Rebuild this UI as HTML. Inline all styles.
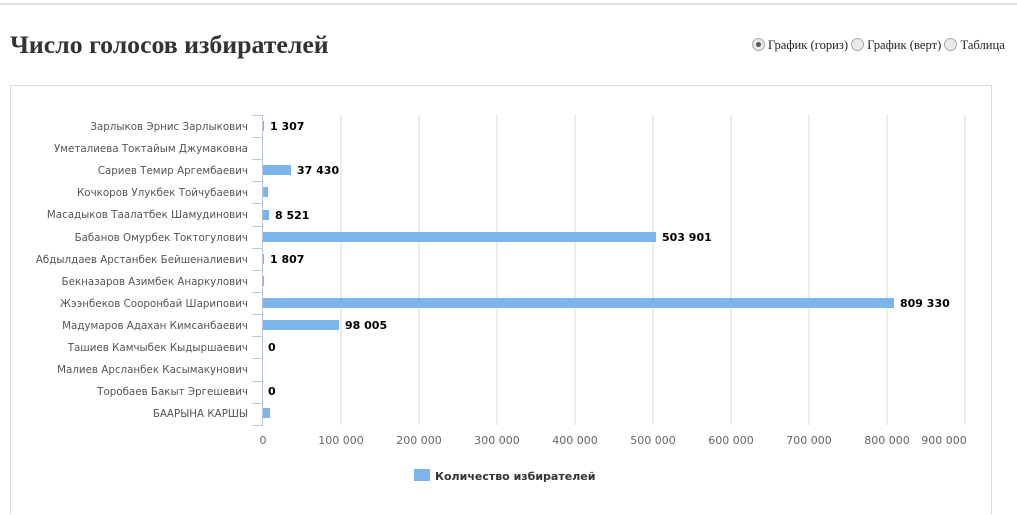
<!DOCTYPE html>
<html style="height:515px;overflow:hidden"><head><meta charset="utf-8"><style>
html,body{margin:0;width:1017px;height:515px;overflow:hidden}
body{background:#fff;position:relative;font-family:"DejaVu Sans",sans-serif}
.top{position:absolute;left:0;top:3px;width:1017px;height:2px;background:#e2e2e2}
h1{position:absolute;left:10px;top:30px;margin:0;font:bold 25.8px "Liberation Serif",serif;color:#333}
.radios{position:absolute;left:752px;top:38px;font:12.6px "Liberation Serif",serif;color:#222;white-space:nowrap}
.radios span{display:inline-block;width:11px;height:11px;border-radius:50%;border:1px solid #aaa;background:#e8e8e8;vertical-align:-2px;margin-right:3px;position:relative}
.radios span.on::after{content:"";position:absolute;left:3px;top:3px;width:5px;height:5px;border-radius:50%;background:#555}
.box{position:absolute;left:10px;top:85px;width:980px;height:428px;border:1px solid #ddd;border-bottom:none}
svg{position:absolute;left:0;top:0}
</style></head><body>
<div class="top"></div>
<h1>Число голосов избирателей</h1>
<div class="radios"><span class="on"></span>График (гориз) <span></span>График (верт) <span></span>Таблица</div>
<div class="box"></div>
<svg width="1017" height="515" font-family="DejaVu Sans, sans-serif">
<g stroke="#d8d8d8" stroke-width="1">
<line x1="341" y1="115" x2="341" y2="425"/><line x1="419" y1="115" x2="419" y2="425"/><line x1="497" y1="115" x2="497" y2="425"/><line x1="575" y1="115" x2="575" y2="425"/><line x1="653" y1="115" x2="653" y2="425"/><line x1="731" y1="115" x2="731" y2="425"/><line x1="809" y1="115" x2="809" y2="425"/><line x1="887" y1="115" x2="887" y2="425"/><line x1="965" y1="115" x2="965" y2="425"/>
</g>
<g stroke="#b8c8dc" stroke-width="1">
<line x1="262.5" y1="115" x2="262.5" y2="426"/>
<line x1="252" y1="115.5" x2="262" y2="115.5"/><line x1="252" y1="137.5" x2="262" y2="137.5"/><line x1="252" y1="159.5" x2="262" y2="159.5"/><line x1="252" y1="181.5" x2="262" y2="181.5"/><line x1="252" y1="203.5" x2="262" y2="203.5"/><line x1="252" y1="226.5" x2="262" y2="226.5"/><line x1="252" y1="248.5" x2="262" y2="248.5"/><line x1="252" y1="270.5" x2="262" y2="270.5"/><line x1="252" y1="292.5" x2="262" y2="292.5"/><line x1="252" y1="314.5" x2="262" y2="314.5"/><line x1="252" y1="336.5" x2="262" y2="336.5"/><line x1="252" y1="358.5" x2="262" y2="358.5"/><line x1="252" y1="381.5" x2="262" y2="381.5"/><line x1="252" y1="403.5" x2="262" y2="403.5"/><line x1="252" y1="425.5" x2="262" y2="425.5"/>
</g>
<g font-size="10.3" fill="#555" text-anchor="end">
<text x="248" y="130">Зарлыков Эрнис Зарлыкович</text>
<text x="248" y="152">Уметалиева Токтайым Джумаковна</text>
<text x="248" y="174">Сариев Темир Аргембаевич</text>
<text x="248" y="196">Кочкоров Улукбек Тойчубаевич</text>
<text x="248" y="218">Масадыков Таалатбек Шамудинович</text>
<text x="248" y="241">Бабанов Омурбек Токтогулович</text>
<text x="248" y="263">Абдылдаев Арстанбек Бейшеналиевич</text>
<text x="248" y="285">Бекназаров Азимбек Анаркулович</text>
<text x="248" y="307">Жээнбеков Сооронбай Шарипович</text>
<text x="248" y="329">Мадумаров Адахан Кимсанбаевич</text>
<text x="248" y="351">Ташиев Камчыбек Кыдыршаевич</text>
<text x="248" y="373">Малиев Арсланбек Касымакунович</text>
<text x="248" y="395">Торобаев Бакыт Эргешевич</text>
<text x="248" y="417">БААРЫНА КАРШЫ</text>
</g>
<g fill="#7cb5ec">
<rect x="263" y="121" width="1" height="10"/>
<rect x="263" y="165" width="28" height="10"/>
<rect x="263" y="187" width="5" height="10"/>
<rect x="263" y="210" width="6" height="10"/>
<rect x="263" y="232" width="393" height="10"/>
<rect x="263" y="254" width="1" height="10"/>
<rect x="263" y="276" width="1" height="10"/>
<rect x="263" y="298" width="631" height="10"/>
<rect x="263" y="320" width="76" height="10"/>
<rect x="263" y="408" width="7" height="10"/>
</g>
<g font-size="11" font-weight="bold" fill="#000">
<text x="270" y="130">1 307</text>
<text x="297" y="174">37 430</text>
<text x="275" y="219">8 521</text>
<text x="662" y="241">503 901</text>
<text x="270" y="263">1 807</text>
<text x="900" y="307">809 330</text>
<text x="345" y="329">98 005</text>
<text x="268" y="351">0</text>
<text x="268" y="395">0</text>
</g>
<g font-size="11" fill="#666" text-anchor="middle">
<text x="263" y="444">0</text><text x="341" y="444">100 000</text><text x="419" y="444">200 000</text><text x="497" y="444">300 000</text><text x="575" y="444">400 000</text><text x="653" y="444">500 000</text><text x="731" y="444">600 000</text><text x="809" y="444">700 000</text><text x="887" y="444">800 000</text><text x="944" y="444">900 000</text>
</g>
<rect x="414" y="469" width="16" height="12" fill="#7cb5ec"/>
<text x="435" y="480" font-size="11" font-weight="bold" fill="#333">Количество избирателей</text>
</svg>
</body></html>
